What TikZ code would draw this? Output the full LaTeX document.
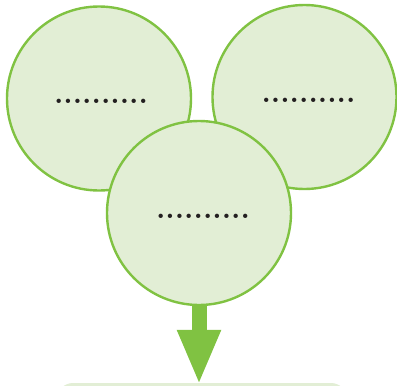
\documentclass[tikz,border=0pt]{standalone}
\usepackage{xcolor}
\usepackage{tikz}
\usetikzlibrary{arrows.meta, positioning}

\definecolor{leafline}{HTML}{80C242}
\definecolor{leaffill}{HTML}{E2EED5}
\definecolor{dotink}{HTML}{231F20}

\tikzset{
  bubble/.style={circle, draw=leafline, fill=leaffill, line width=2.4pt,
    minimum size=184pt, inner sep=0pt, text=dotink,
    text height=10pt, text depth=0pt,
    font=\bfseries\fontsize{30}{30}\selectfont},
  resultbox/.style={rectangle, rounded corners=16pt, fill=leaffill,
    minimum width=290pt, minimum height=40pt},
  fatarrow/.style={draw=leafline, line width=15pt,
    -{Triangle[width=40pt,length=55pt]}, shorten >=-2pt}
}

\begin{document}
\begin{tikzpicture}[x=1pt, y=-1pt]
    \useasboundingbox (0,0) rectangle (397,386);

    % result box, cut off by the page
    \node[resultbox] (res) at (202,403) {};

    % the two upper circles
    \node[bubble] (left) at (99,98.5) {\hspace*{4pt}..........};
    \node[bubble] (right) at (304.5,97) {\hspace*{8pt}..........};

    % lower circle on top
    \node[bubble] (bot) at (199,213) {\hspace*{8pt}..........};

    % arrow down to the box
    \draw[fatarrow] (bot.south) -- (bot.south |- res.north);
\end{tikzpicture}
\end{document}
